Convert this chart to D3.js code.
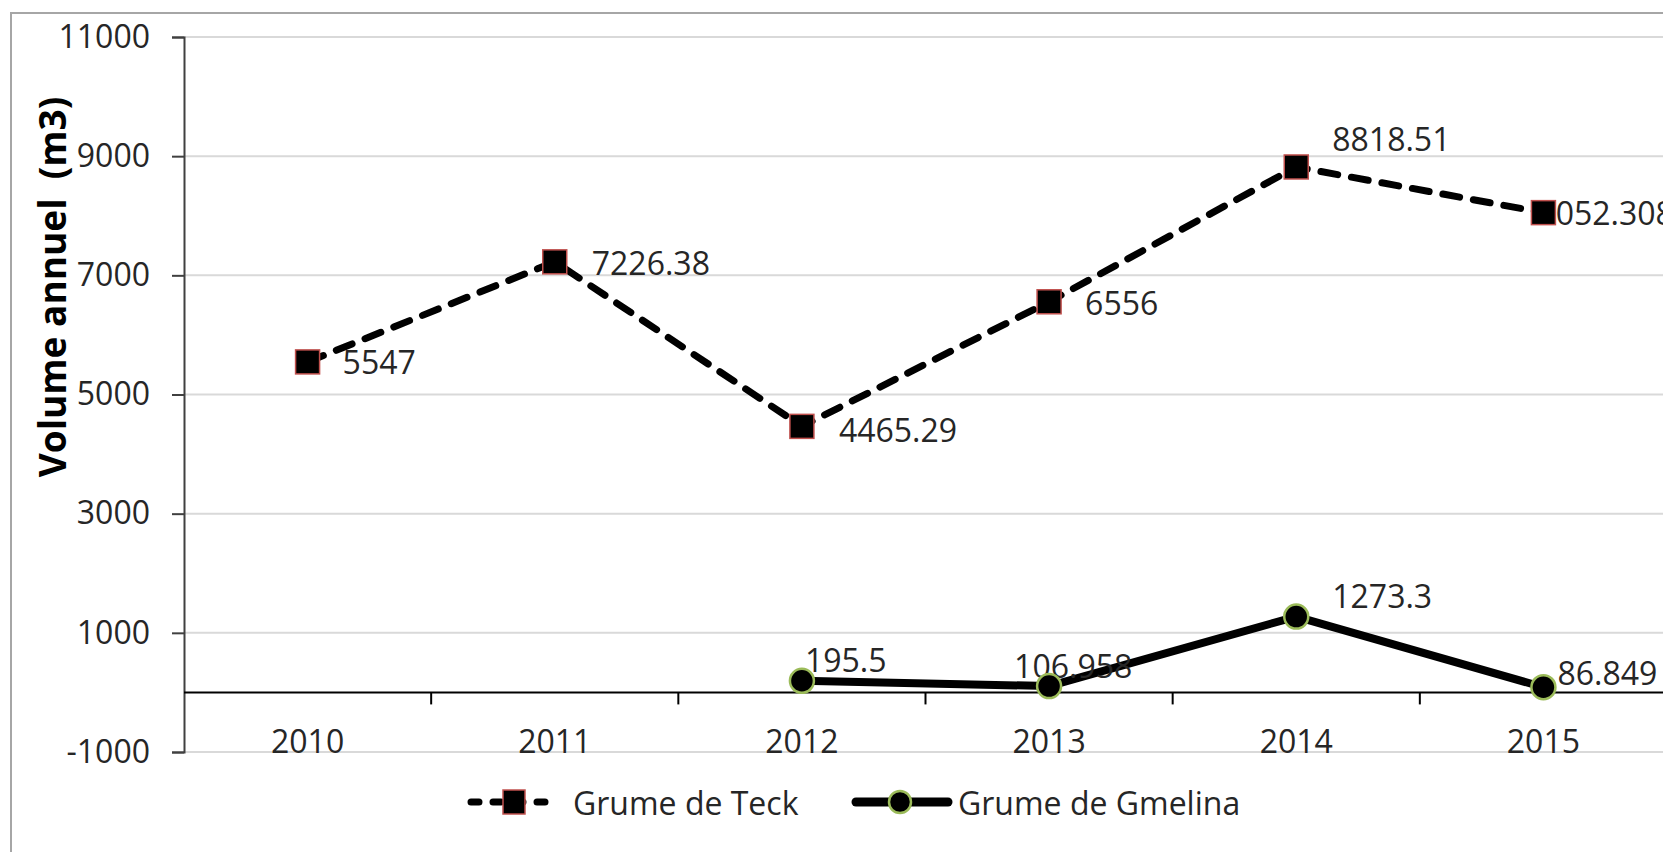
<!DOCTYPE html>
<html>
<head>
<meta charset="utf-8">
<script src="https://cdn.jsdelivr.net/npm/d3@7"></script>
<style>
  body { margin: 0; background: #fff; overflow: hidden; }
  svg { display: block; }
  text { font-family: "Open Sans", "Noto Sans", sans-serif; }
</style>
</head>
<body>
<svg id="chart" width="1663" height="852"></svg>
<script>
// data
var years = ["2010", "2011", "2012", "2013", "2014", "2015"];
var teckValues = [5547, 7226.38, 4465.29, 6556, 8818.51, 8052.308];
var gmelinaValues = [null, null, 195.5, 106.958, 1273.3, 86.849];
var teckLabels = ["5547", "7226.38", "4465.29", "6556", "8818.51", "8052.308"];
var gmelinaLabels = ["", "", "195.5", "106.958", "1273.3", "86.849"];
var yTicks = [-1000, 1000, 3000, 5000, 7000, 9000, 11000];
var seriesNames = ["Grume de Teck", "Grume de Gmelina"];

// label nudges, as placed by hand in the original (dx, dy from the point)
var teckLabelOffsets = [[35, 0], [37, 1], [37, 3], [36, 1], [36, -28], [-6, 0]];
var gmelinaLabelOffsets = [[0, 0], [0, 0], [3, -21], [-35, -21], [36, -21], [14, -15]];

var svg = d3.select("#chart");

var x = d3.scaleBand().domain(years).range([184, 1667]).padding(0);
var y = d3.scaleLinear().domain([-1000, 11000]).range([752, 37]);
function cx(d) { return x(d) + x.bandwidth() / 2; }

// outer frame (cropped on right and bottom)
svg.append("path")
    .attr("d", "M11,852V13H1663")
    .attr("fill", "none")
    .attr("stroke", "#a6a6a6")
    .attr("stroke-width", 2);

// gridlines
svg.append("g").selectAll("line")
    .data(yTicks)
    .enter().append("line")
    .attr("x1", 184).attr("x2", 1663)
    .attr("y1", function(d) { return y(d); })
    .attr("y2", function(d) { return y(d); })
    .attr("stroke", "#d9d9d9")
    .attr("stroke-width", 2);

// y axis
var yAxis = svg.append("g")
    .attr("transform", "translate(184,0)")
    .call(d3.axisLeft(y).tickValues(yTicks).tickSize(12).tickPadding(22)
        .tickFormat(function(d) { return String(d); }));
yAxis.select(".domain").attr("stroke", "#404040").attr("stroke-width", 2);
yAxis.selectAll(".tick line").attr("stroke", "#404040").attr("stroke-width", 2);
yAxis.selectAll(".tick text")
    .attr("font-size", 32)
    .attr("fill", "#262626")
    .style("font-family", "'Open Sans', sans-serif");

// y title
svg.append("text")
    .attr("transform", "translate(51,287) rotate(-90)")
    .attr("text-anchor", "middle")
    .attr("dominant-baseline", "central")
    .attr("font-size", 37)
    .attr("font-weight", "bold")
    .attr("fill", "#000")
    .style("white-space", "pre")
    .text("Volume annuel  (m3)");

// zero line with category ticks
var y0 = y(0);
svg.append("line")
    .attr("x1", 184).attr("x2", 1663)
    .attr("y1", y0).attr("y2", y0)
    .attr("stroke", "#000")
    .attr("stroke-width", 2);
var bounds = years.slice(1).map(function(d) { return x(d); });
svg.append("g").selectAll("line")
    .data(bounds)
    .enter().append("line")
    .attr("x1", function(d) { return d; })
    .attr("x2", function(d) { return d; })
    .attr("y1", y0).attr("y2", y0 + 12)
    .attr("stroke", "#000")
    .attr("stroke-width", 2);

// year labels, low position
svg.append("g").selectAll("text")
    .data(years)
    .enter().append("text")
    .attr("x", cx)
    .attr("y", 753)
    .attr("text-anchor", "middle")
    .attr("font-size", 32)
    .attr("fill", "#262626")
    .text(function(d) { return d; });

var line = d3.line()
    .defined(function(d) { return d[1] != null; })
    .x(function(d) { return cx(d[0]); })
    .y(function(d) { return y(d[1]); });

var teckPts = d3.zip(years, teckValues);
var gmelinaPts = d3.zip(years, gmelinaValues);

// Teck series
svg.append("path")
    .datum(teckPts)
    .attr("d", line)
    .attr("fill", "none")
    .attr("stroke", "#000")
    .attr("stroke-width", 7)
    .attr("stroke-linecap", "round")
    .attr("stroke-dasharray", "17,14");

// Gmelina series
svg.append("path")
    .datum(gmelinaPts)
    .attr("d", line)
    .attr("fill", "none")
    .attr("stroke", "#000")
    .attr("stroke-width", 8)
    .attr("stroke-linejoin", "round");

// labels
function drawLabels(pts, labels, offsets) {
    svg.append("g").selectAll("text")
        .data(pts.filter(function(d) { return d[1] != null; }))
        .enter().append("text")
        .attr("x", function(d) { return cx(d[0]) + offsets[years.indexOf(d[0])][0]; })
        .attr("y", function(d) { return y(d[1]) + offsets[years.indexOf(d[0])][1]; })
        .attr("dominant-baseline", "central")
        .attr("font-size", 32)
        .attr("fill", "#262626")
        .text(function(d) { return labels[years.indexOf(d[0])]; });
}
drawLabels(teckPts, teckLabels, teckLabelOffsets);
drawLabels(gmelinaPts, gmelinaLabels, gmelinaLabelOffsets);

// markers
svg.append("g").selectAll("rect")
    .data(teckPts)
    .enter().append("rect")
    .attr("x", function(d) { return cx(d[0]) - 12; })
    .attr("y", function(d) { return y(d[1]) - 12; })
    .attr("width", 24).attr("height", 24)
    .attr("fill", "#000")
    .attr("stroke", "#c0504d")
    .attr("stroke-width", 1.5);

svg.append("g").selectAll("circle")
    .data(gmelinaPts.filter(function(d) { return d[1] != null; }))
    .enter().append("circle")
    .attr("cx", function(d) { return cx(d[0]); })
    .attr("cy", function(d) { return y(d[1]); })
    .attr("r", 12)
    .attr("fill", "#000")
    .attr("stroke", "#9bbb59")
    .attr("stroke-width", 2.5);

// legend
var ly = 802;
var leg1 = svg.append("g");
leg1.append("line")
    .attr("x1", 471).attr("x2", 558).attr("y1", ly).attr("y2", ly)
    .attr("stroke", "#000").attr("stroke-width", 7)
    .attr("stroke-linecap", "round")
    .attr("stroke-dasharray", "8,14");
leg1.append("rect")
    .attr("x", 503).attr("y", ly - 12).attr("width", 22).attr("height", 24)
    .attr("fill", "#000").attr("stroke", "#c0504d").attr("stroke-width", 1.5);
leg1.append("text")
    .attr("x", 573).attr("y", ly)
    .attr("dominant-baseline", "central")
    .attr("font-size", 32).attr("fill", "#262626")
    .text(seriesNames[0]);

var leg2 = svg.append("g");
leg2.append("line")
    .attr("x1", 856).attr("x2", 948).attr("y1", ly).attr("y2", ly)
    .attr("stroke", "#000").attr("stroke-width", 9)
    .attr("stroke-linecap", "round");
leg2.append("circle")
    .attr("cx", 900).attr("cy", ly).attr("r", 11)
    .attr("fill", "#000").attr("stroke", "#9bbb59").attr("stroke-width", 2.5);
leg2.append("text")
    .attr("x", 958).attr("y", ly)
    .attr("dominant-baseline", "central")
    .attr("font-size", 32).attr("fill", "#262626")
    .text(seriesNames[1]);
</script>
</body>
</html>
